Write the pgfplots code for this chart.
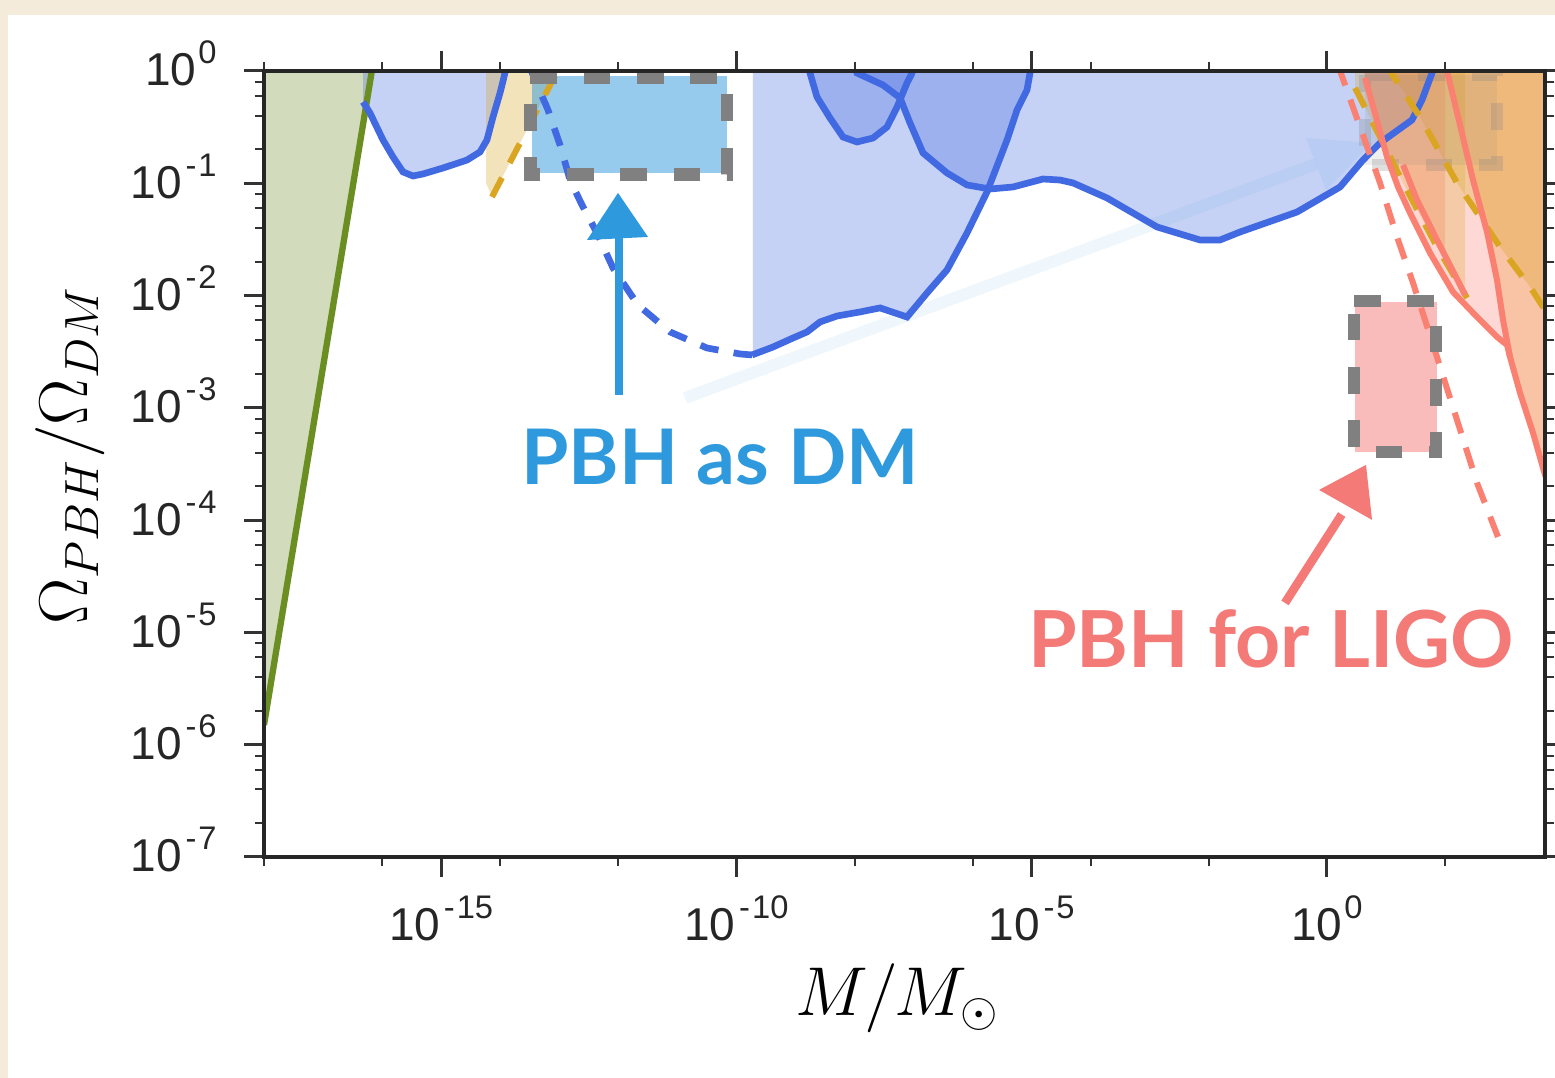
\documentclass[border=0pt]{standalone}
\usepackage{pgfplots}
\pgfplotsset{compat=1.18}
\usepackage[no-math]{fontspec}
\setmainfont{Liberation Sans}
\newfontfamily\annfont{Lato}
\definecolor{rblue}{RGB}{65,105,225}
\definecolor{oliv}{RGB}{107,142,35}
\definecolor{gold}{RGB}{218,165,32}
\definecolor{salm}{RGB}{250,128,114}
\definecolor{sandy}{RGB}{244,164,96}
\definecolor{tblue}{RGB}{47,153,221}
\definecolor{tpink}{RGB}{244,122,120}
\definecolor{beige}{RGB}{244,235,219}
\definecolor{dgray}{RGB}{128,128,128}
\newcommand\tl[1]{10\kern0.6pt\raisebox{6.6pt}{\fontsize{9.8}{10}\selectfont #1}}
\newcommand\mi{\kern0.5pt-\kern0.6pt}
\begin{document}
\begin{tikzpicture}
\path[use as bounding box] (0,0) rectangle (466.5pt,323.4pt);
\fill[beige] (0,0) rectangle (466.5pt,323.4pt);
\fill[white] (2.4pt,0) rectangle (466.5pt,318.9pt);
\begin{axis}[
  at={(79.2pt,66.3pt)}, anchor=south west,
  scale only axis, width=384.3pt, height=235.8pt,
  xmin=-18, xmax=3.693, ymin=-7, ymax=0,
  axis on top,
  axis line style={line width=1.2pt, draw=black!85},
  tick align=outside, tick pos=both,
  xtick={-15,-10,-5,0},
  xticklabels={\tl{\mi15},\tl{\mi10},\tl{\mi5},\tl{0}},
  minor xtick={-18,-16,-14,-12,-8,-6,-4,-2,2},
  ytick={-7,-6,-5,-4,-3,-2,-1,0},
  yticklabels={\tl{\mi7},\tl{\mi6},\tl{\mi5},\tl{\mi4},\tl{\mi3},\tl{\mi2},\tl{\mi1},\tl{0}},
  minor ytick={-6.69897,-6.39794,-6.22185,-6.09691,
    -5.69897,-5.39794,-5.22185,-5.09691,
    -4.69897,-4.39794,-4.22185,-4.09691,
    -3.69897,-3.39794,-3.22185,-3.09691,
    -2.69897,-2.39794,-2.22185,-2.09691,
    -1.69897,-1.39794,-1.22185,-1.09691,
    -0.69897,-0.39794,-0.22185,-0.09691},
  major tick length=6pt, minor tick length=2.8pt,
  tick style={black!80},
  every major tick/.append style={line width=0.9pt},
  every minor tick/.append style={line width=0.6pt},
  ticklabel style={font=\fontsize{13.8}{14}\selectfont, text=black!85, inner sep=0pt},
  xticklabel style={anchor=base, yshift=-19pt},
  yticklabel style={anchor=base east, xshift=-8pt, yshift=-4.5pt},
  xlabel={$M/M_\odot$},
  xlabel style={at={(axis description cs:0.4945,-0.2023)}, anchor=base, font=\fontsize{19.5}{21}\selectfont},
  ylabel={$\Omega_{PBH}/\Omega_{DM}$},
  ylabel style={at={(axis description cs:-0.1374,0.511)}, anchor=base, font=\fontsize{19.5}{21}\selectfont},
]
% ---- green region
\addplot[draw=none, fill=oliv, fill opacity=0.3] coordinates {(-18.1,-5.824) (-18,-5.824) (-16.155,0.06) (-18.1,0.06)};
% ---- blue fills
\addplot[draw=none, fill=rblue, fill opacity=0.3] coordinates {(-16.323,0.06) (-16.323,-0.276) (-16.205,-0.374) (-15.985,-0.614) (-15.815,-0.766) (-15.646,-0.899) (-15.477,-0.935) (-15.307,-0.917) (-14.969,-0.864) (-14.562,-0.793) (-14.342,-0.721) (-14.224,-0.614) (-14.122,-0.410) (-14.003,-0.196) (-13.919,-0.018) (-13.885,0.06)};
\addplot[draw=none, fill=rblue, fill opacity=0.3] coordinates {(-9.72,0.06) (-9.72,-2.529) (-9.380,-2.458) (-9.042,-2.378) (-8.804,-2.324) (-8.584,-2.235) (-8.296,-2.182) (-7.907,-2.146) (-7.568,-2.110) (-7.111,-2.191) (-6.772,-1.977) (-6.434,-1.772) (-6.095,-1.443) (-5.756,-1.077) (-5.417,-0.614) (-5.248,-0.347) (-5.079,-0.169) (-5.028,-0.018) (-5.011,0.06)};
\addplot[draw=none, fill=rblue, fill opacity=0.3] coordinates {(-8.787,0.06) (-8.754,-0.018) (-8.635,-0.232) (-8.415,-0.419) (-8.195,-0.588) (-7.958,-0.632) (-7.687,-0.597) (-7.450,-0.499) (-7.280,-0.321) (-7.111,-0.107) (-7.026,-0.018) (-6.992,0.06)};
\addplot[draw=none, fill=rblue, fill opacity=0.3] coordinates {(-7.992,0.06) (-7.958,-0.018) (-7.517,-0.125) (-7.229,-0.240) (-7.060,-0.463) (-6.840,-0.730) (-6.434,-0.908) (-6.095,-1.015) (-5.705,-1.051) (-5.316,-1.033) (-4.808,-0.962) (-4.520,-0.971) (-4.300,-0.997) (-3.724,-1.131) (-2.877,-1.389) (-2.149,-1.505) (-1.810,-1.505) (-1.472,-1.434) (-0.507,-1.256) (0.222,-1.033) (0.611,-0.793) (0.899,-0.641) (1.441,-0.436) (1.610,-0.258) (1.780,-0.018) (1.831,0.06)};
% ---- wheat left
\addplot[draw=none, fill=gold, fill opacity=0.3] coordinates {(-14.240,0.06) (-14.240,-0.997) (-14.139,-1.122) (-12.970,0.06)};
% ---- right layers
\addplot[draw=none, fill=salm, fill opacity=0.3] coordinates {(0.611,0.06) (0.645,-0.062) (0.831,-0.410) (1.018,-0.766) (1.204,-1.033) (1.407,-1.264) (1.746,-1.621) (2.135,-1.968) (2.542,-2.191) (2.880,-2.369) (3.050,-2.440) (3.101,-2.547) (3.270,-2.867) (3.490,-3.223) (3.693,-3.597) (3.8,-3.75) (3.8,0.06)};
\addplot[draw=none, fill=sandy, fill opacity=0.4] coordinates {(2.017,0.06) (2.034,0) (2.254,-0.481) (2.474,-0.971) (2.711,-1.434) (2.880,-1.861) (2.982,-2.217) (3.101,-2.547) (3.270,-2.867) (3.490,-3.223) (3.693,-3.597) (3.8,-3.75) (3.8,0.06)};
\addplot[draw=none, fill=gold, fill opacity=0.3] coordinates {(1.018,0.06) (1.068,0) (1.576,-0.410) (2.203,-0.997) (2.931,-1.567) (3.440,-1.923) (3.693,-2.128) (3.862,-2.262) (3.862,0.06)};
\addplot[draw=none, fill=salm, fill opacity=0.3] coordinates {(0.611,0.06) (0.645,-0.062) (0.831,-0.410) (1.018,-0.766) (1.289,-0.837) (1.526,-1.149) (1.864,-1.505) (2.0,-1.638) (2.0,0.06)};
\addplot[draw=none, fill=gold, fill opacity=0.25] coordinates {(0.476,0.06) (0.476,-0.151) (0.899,-0.588) (1.289,-0.997) (1.864,-1.567) (2.339,-1.99) (2.339,0.06)};
% ---- highlighted boxes (fills)
\addplot[draw=none, fill=tblue, fill opacity=0.5] coordinates {(-13.462,-0.045) (-10.159,-0.045) (-10.159,-0.908) (-13.462,-0.908)};
\addplot[draw=none, fill=tpink, fill opacity=0.5] coordinates {(0.476,-2.057) (1.864,-2.057) (1.864,-3.393) (0.476,-3.393)};
% ---- ghost arrow and ghost box
\addplot[draw=tblue, draw opacity=0.07, line width=3.6pt] coordinates {(-10.870,-2.912) (-0.185,-0.828)};
\addplot[draw=none, fill=tblue, fill opacity=0.08] coordinates {(0.764,-0.641) (-0.015,-1.060) (-0.354,-0.597)};
\addplot[draw=none, fill=dgray, fill opacity=0.12] coordinates {(0.645,-0.036) (2.880,-0.036) (2.880,-0.837) (0.645,-0.837)};
\addplot[draw=dgray, draw opacity=0.25, line width=3.6pt, dash pattern=on 8pt off 8pt] coordinates {(0.645,-0.036) (2.880,-0.036) (2.880,-0.837) (0.645,-0.837) (0.645,-0.036)};
% ---- lines
\addplot[oliv, line width=1.9pt] coordinates {(-18,-5.824) (-16.155,0.06)};
\addplot[rblue, line width=2pt] coordinates {(-16.323,-0.276) (-16.205,-0.374) (-15.985,-0.614) (-15.815,-0.766) (-15.646,-0.899) (-15.477,-0.935) (-15.307,-0.917) (-14.969,-0.864) (-14.562,-0.793) (-14.342,-0.721) (-14.224,-0.614) (-14.122,-0.410) (-14.003,-0.196) (-13.919,-0.018) (-13.885,0.06)};
\addplot[rblue, line width=2pt, dash pattern=on 5.6pt off 4.6pt] coordinates {(-13.512,0.053) (-13.411,-0.080) (-13.190,-0.347) (-12.987,-0.659) (-12.818,-0.971) (-12.615,-1.193) (-12.361,-1.443) (-12.090,-1.754) (-11.667,-2.084) (-11.124,-2.324) (-10.498,-2.467) (-9.939,-2.520) (-9.736,-2.529)};
\addplot[rblue, line width=2pt] coordinates {(-9.736,-2.529) (-9.380,-2.458) (-9.042,-2.378) (-8.804,-2.324) (-8.584,-2.235) (-8.296,-2.182) (-7.907,-2.146) (-7.568,-2.110) (-7.111,-2.191) (-6.772,-1.977) (-6.434,-1.772) (-6.095,-1.443) (-5.756,-1.077) (-5.417,-0.614) (-5.248,-0.347) (-5.079,-0.169) (-5.028,-0.018) (-5.011,0.06)};
\addplot[rblue, line width=2pt] coordinates {(-8.787,0.06) (-8.754,-0.018) (-8.635,-0.232) (-8.415,-0.419) (-8.195,-0.588) (-7.958,-0.632) (-7.687,-0.597) (-7.450,-0.499) (-7.280,-0.321) (-7.111,-0.107) (-7.026,-0.018) (-6.992,0.06)};
\addplot[rblue, line width=2pt] coordinates {(-7.992,0.06) (-7.958,-0.018) (-7.517,-0.125) (-7.229,-0.240) (-7.060,-0.463) (-6.840,-0.730) (-6.434,-0.908) (-6.095,-1.015) (-5.705,-1.051) (-5.316,-1.033) (-4.808,-0.962) (-4.520,-0.971) (-4.300,-0.997) (-3.724,-1.131) (-2.877,-1.389) (-2.149,-1.505) (-1.810,-1.505) (-1.472,-1.434) (-0.507,-1.256) (0.222,-1.033) (0.611,-0.793) (0.899,-0.641) (1.441,-0.436) (1.610,-0.258) (1.780,-0.018) (1.831,0.06)};
\addplot[gold, line width=1.8pt, dash pattern=on 6.5pt off 5pt] coordinates {(-14.139,-1.122) (-12.970,0.06)};
\addplot[gold, line width=1.8pt, dash pattern=on 6.5pt off 5pt] coordinates {(1.018,0.06) (1.068,0) (1.576,-0.410) (2.203,-0.997) (2.931,-1.567) (3.440,-1.923) (3.693,-2.128) (3.862,-2.262)};
\addplot[gold, line width=1.8pt, dash pattern=on 6.5pt off 5pt] coordinates {(0.476,-0.151) (0.899,-0.588) (1.289,-0.997) (1.864,-1.567) (2.373,-2.021)};
\addplot[salm, line width=1.8pt, dash pattern=on 6.5pt off 4.5pt] coordinates {(0.188,0.053) (0.561,-0.499) (0.899,-0.997) (1.187,-1.478) (1.458,-1.888) (1.864,-2.547) (2.542,-3.669) (2.982,-4.265)};
\addplot[salm, line width=1.8pt] coordinates {(0.645,-0.062) (0.831,-0.410) (1.018,-0.766) (1.204,-1.033) (1.407,-1.264) (1.746,-1.621) (2.135,-1.968) (2.542,-2.191) (2.880,-2.369) (3.050,-2.440) (3.101,-2.547)};
\addplot[salm, line width=1.8pt] coordinates {(1.289,-0.837) (1.526,-1.149) (1.864,-1.505) (2.169,-1.817) (2.339,-1.995)};
\addplot[salm, line width=1.8pt] coordinates {(2.017,0.06) (2.034,0) (2.254,-0.481) (2.474,-0.971) (2.711,-1.434) (2.880,-1.861) (2.982,-2.217) (3.101,-2.547) (3.270,-2.867) (3.490,-3.223) (3.693,-3.597) (3.8,-3.75)};
% ---- dashed frames
\addplot[draw=dgray, line width=3.8pt, dash pattern=on 8pt off 8pt] coordinates {(-13.49,-0.06) (-10.16,-0.06) (-10.16,-0.92) (-13.49,-0.92) (-13.49,-0.06)};
\addplot[draw=dgray, line width=3.8pt, dash pattern=on 8pt off 8pt] coordinates {(0.459,-2.048) (1.847,-2.048) (1.847,-3.393) (0.459,-3.393) (0.459,-2.048)};
% ---- hand drawn arrows
\addplot[tblue, line width=2.6pt] coordinates {(-11.988,-2.885) (-11.988,-1.40)};
\addplot[draw=none, fill=tblue] coordinates {(-12.005,-1.086) (-12.530,-1.505) (-11.497,-1.478)};
\addplot[tpink, line width=2.6pt] coordinates {(-0.710,-4.737) (0.250,-3.95)};
\addplot[draw=none, fill=tpink] coordinates {(0.662,-3.508) (-0.134,-3.731) (0.764,-3.998)};
% ---- annotations
\node[anchor=base, text=tblue, font={\fontsize{23}{24}\annfont\bfseries}] at (axis cs:-10.278,-3.687) {PBH as DM};
\node[anchor=base, text=tpink, font={\fontsize{23.6}{24}\annfont\bfseries}] at (axis cs:-0.947,-5.316) {PBH for LIGO};
\end{axis}
\end{tikzpicture}
\end{document}
